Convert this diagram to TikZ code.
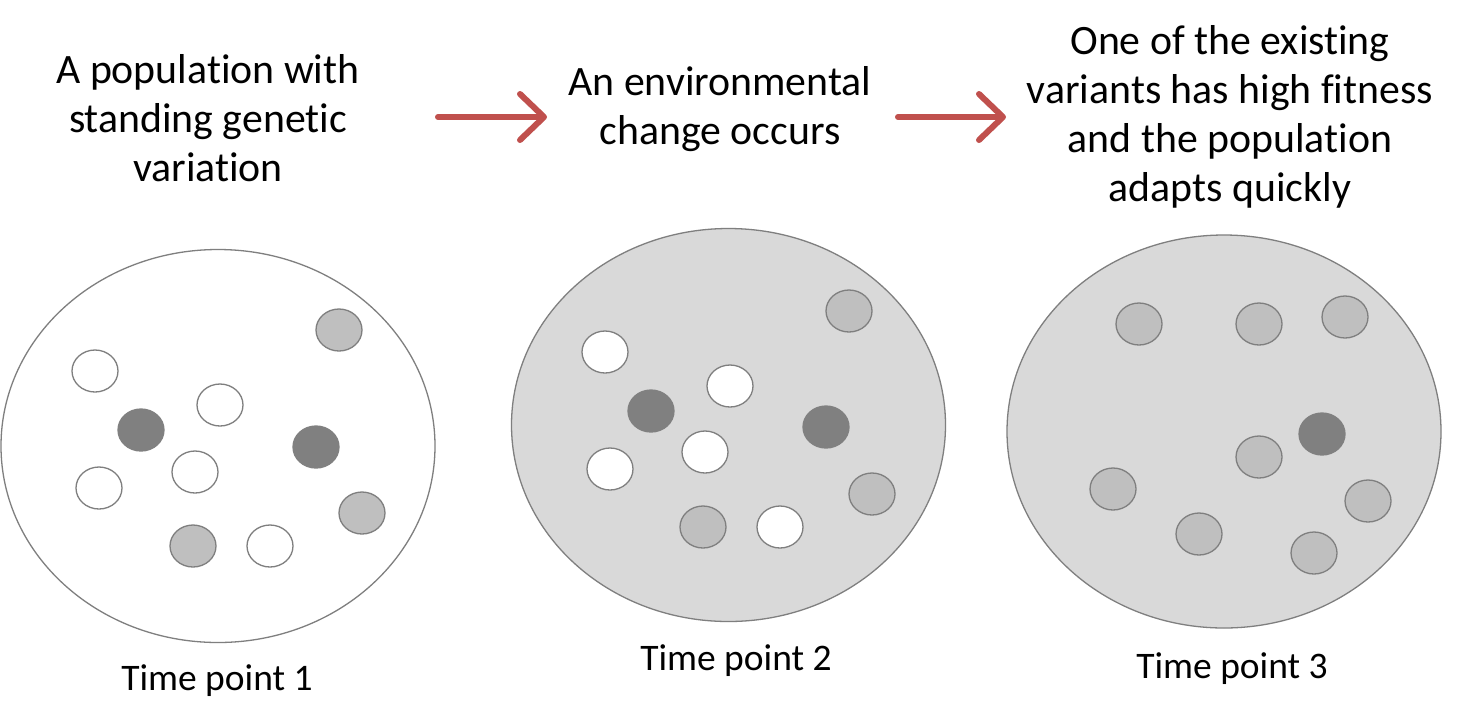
\documentclass[tikz,border=0pt]{standalone}
\usepackage{fontspec}
\setmainfont{Carlito}[Ligatures={NoCommon,TeX}]
\usetikzlibrary{shapes.geometric,arrows.meta}
\definecolor{edgegray}{HTML}{7F7F7F}
\definecolor{bgfill}{HTML}{D9D9D9}
\definecolor{lightdot}{HTML}{BFBFBF}
\definecolor{darkdot}{HTML}{808080}
\definecolor{arrowred}{HTML}{C0504D}
\tikzset{
  pop/.style={ellipse, draw=edgegray, line width=1.3pt, minimum width=434pt, minimum height=393pt, inner sep=0pt},
  dot/.style={ellipse, line width=1.3pt, minimum width=46pt, minimum height=42pt, inner sep=0pt},
  wdot/.style={dot, draw=edgegray, fill=white},
  ldot/.style={dot, draw=edgegray, fill=lightdot},
  ddot/.style={dot, draw=darkdot, fill=darkdot},
  headtext/.style={align=center, anchor=base, inner sep=0pt, font=\fontsize{41.8}{49}\selectfont},
  tplabel/.style={anchor=base, inner sep=0pt, font=\fontsize{37.5}{44}\selectfont},
  redarrow/.style={draw=arrowred, line width=6pt, line cap=round, -{Straight Barb[length=24pt, width=46pt, line cap=round, line join=round]}}
}
\begin{document}
\begin{tikzpicture}[x=1pt,y=-1pt]
\useasboundingbox[fill=white] (0,0) rectangle (1466,724);
% header texts (anchored at the baseline of the last line)
\node[headtext] (t1) at (208,181) {A population with\\standing genetic\\variation};
\node[headtext] (t2) at (720,144) {An environmental\\change occurs};
\node[headtext] (t3) at (1230,201) {One of the existing\\variants has high fitness\\and the population\\adapts quickly};
% arrows
\coordinate (a1s) at (438,117);
\coordinate (a1e) at (547,117);
\coordinate (a2s) at (898,117);
\coordinate (a2e) at (1006,117);
\draw[redarrow] (a1s) -- (a1e);
\draw[redarrow] (a2s) -- (a2e);
% population 1
\node[pop, fill=white] (p1) at (218,446) {};
\node[ldot] (p1a) at (339,330) {};
\node[wdot] (p1b) at (95,371) {};
\node[wdot] (p1c) at (220,405) {};
\node[ddot] (p1d) at (141,430) {};
\node[ddot] (p1e) at (316,447) {};
\node[wdot] (p1f) at (195,472) {};
\node[wdot] (p1g) at (99,488) {};
\node[ldot] (p1h) at (362,513) {};
\node[ldot] (p1i) at (193,546) {};
\node[wdot] (p1j) at (270,546) {};
\node[tplabel] (l1) at (217,690) {Time point 1};
% population 2
\node[pop, fill=bgfill] (p2) at (728.5,425) {};
\node[ldot] (p2a) at (849,311) {};
\node[wdot] (p2b) at (605,352) {};
\node[wdot] (p2c) at (730,386) {};
\node[ddot] (p2d) at (651,411) {};
\node[ddot] (p2e) at (826,427) {};
\node[wdot] (p2f) at (705,452) {};
\node[wdot] (p2g) at (610,469) {};
\node[ldot] (p2h) at (872,494) {};
\node[ldot] (p2i) at (703,527) {};
\node[wdot] (p2j) at (780,527) {};
\node[tplabel] (l2) at (736,670) {Time point 2};
% population 3
\node[pop, fill=bgfill] (p3) at (1224,431.5) {};
\node[ldot] (p3a) at (1139,324) {};
\node[ldot] (p3b) at (1259,324) {};
\node[ldot] (p3c) at (1345,317) {};
\node[ddot] (p3d) at (1322,434) {};
\node[ldot] (p3e) at (1259,457) {};
\node[ldot] (p3f) at (1113,489) {};
\node[ldot] (p3g) at (1368,501) {};
\node[ldot] (p3h) at (1199,534) {};
\node[ldot] (p3i) at (1314,553) {};
\node[tplabel] (l3) at (1232,678) {Time point 3};
\end{tikzpicture}
\end{document}
